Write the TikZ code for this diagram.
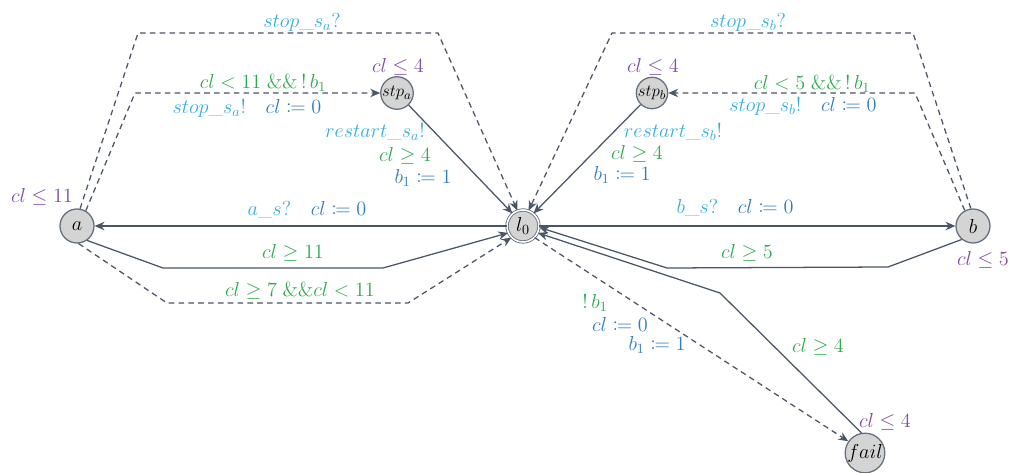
\documentclass[tikz,border=0pt]{standalone}
\usepackage{mathtools}
\usetikzlibrary{arrows.meta}
\definecolor{EdgeSlate}{HTML}{4A5567}
\definecolor{LocGray}{HTML}{D4D4D4}
\definecolor{SyncCyan}{HTML}{38ACE0}
\definecolor{UpdBlue}{HTML}{2E7DC0}
\definecolor{GuardGreen}{HTML}{2DAA4E}
\definecolor{InvPurple}{HTML}{7E4BA8}

\begin{document}
\begin{tikzpicture}[
      loc/.style={circle,draw=EdgeSlate!85,line width=0.9pt,fill=LocGray,
                  minimum size=0.85cm,inner sep=0pt,font=\fontsize{14}{16}\selectfont},
      sloc/.style={loc,minimum size=0.72cm,font=\fontsize{12.5}{13}\selectfont},
      initloc/.style={loc,line width=0.6pt,double=white,double distance=1.1pt,minimum size=0.8cm},
      tr/.style={draw=EdgeSlate,line width=0.9pt,-{Stealth[length=7pt,width=6pt]}},
      dtr/.style={tr,dash pattern=on 4pt off 3pt},
      lab/.style={font=\fontsize{14}{16}\selectfont,inner sep=0pt},
      inv/.style={lab,text=InvPurple},
      grd/.style={lab,text=GuardGreen},
      syn/.style={lab,text=SyncCyan},
      upd/.style={lab,text=UpdBlue},
    ]
    \useasboundingbox (0,0) rectangle (25.4,11.8);

    \node[loc]    (a)    at (1.925,6.15)   {$a$};
    \node[initloc](l0)   at (13.075,6.15)  {$l_0$};
    \node[loc]    (b)    at (24.325,6.15)  {$b$};
    \node[sloc]   (stpa) at (9.925,9.475)  {$stp_a$};
    \node[sloc]   (stpb) at (16.3,9.475)   {$stp_b$};
    \node[loc]    (fail) at (21.625,0.475) {$fail$};

    \node[inv] at (1.05,6.875)  {$cl \leq 11$};
    \node[inv] at (9.95,10.125) {$cl \leq 4$};
    \node[inv] at (16.325,10.125) {$cl \leq 4$};
    \node[inv] at (24.575,5.3)  {$cl \leq 5$};
    \node[inv] at (22.125,1.25) {$cl \leq 4$};

    \draw[dtr] (a.80) -- (3.45,10.975) -- (10.95,10.975) -- (l0.110);
    \draw[dtr] (a.60) -- (3.375,9.475) -- (stpa);
    \draw[tr]  (stpa) -- (l0.130);
    \draw[tr]  (l0) -- (a);
    \draw[tr]  (a.-55) -- (4.075,5.1) -- (9.575,5.1) -- (l0.205);
    \draw[dtr] (a.-85) -- (4.175,4.225) -- (10.2,4.225) -- (l0.225);

    \draw[dtr] (b.97) -- (22.825,10.975) -- (15.3,10.975) -- (l0.70);
    \draw[dtr] (b.118) -- (22.875,9.475) -- (stpb);
    \draw[tr]  (stpb) -- (l0.50);
    \draw[tr]  (l0) -- (b);
    \draw[tr]  (b.230) -- (22.2,5.125) -- (16.675,5.1) -- (l0.-5);
    \draw[tr]  (fail.100) -- (18.0,4.475) -- (l0.-25);
    \draw[dtr] (l0.-45) -- (fail.145);

    \node[syn] at (7.55,11.25) {$stop\_s_a?$};
    \node[grd] at (6.575,9.725) {$cl < 11\;\&\&\,!\,b_1$};
    \node[lab] at (6.175,9.1) {$\color{SyncCyan}stop\_s_a!\quad\color{UpdBlue}cl \coloneqq 0$};
    \node[syn] at (9.375,8.5) {$restart\_s_a!$};
    \node[grd] at (10.125,7.9) {$cl \geq 4$};
    \node[upd] at (10.575,7.35) {$b_1 \coloneqq 1$};
    \node[lab] at (7.675,6.55) {$\color{SyncCyan}a\_s?\quad\color{UpdBlue}cl \coloneqq 0$};
    \node[grd] at (7.325,5.475) {$cl \geq 11$};
    \node[grd] at (7.5,4.525) {$cl \geq 7\;\&\&cl < 11$};

    \node[syn] at (18.7,11.25) {$stop\_s_b?$};
    \node[grd] at (20.3,9.7) {$cl < 5\;\&\&\,!\,b_1$};
    \node[lab] at (20.075,9.15) {$\color{SyncCyan}stop\_s_b!\quad\color{UpdBlue}cl \coloneqq 0$};
    \node[syn] at (16.825,8.5) {$restart\_s_b!$};
    \node[grd] at (15.925,7.95) {$cl \geq 4$};
    \node[upd] at (15.55,7.425) {$b_1 \coloneqq 1$};
    \node[lab] at (18.375,6.6) {$\color{SyncCyan}b\_s?\quad\color{UpdBlue}cl \coloneqq 0$};
    \node[grd] at (18.675,5.475) {$cl \geq 5$};
    \node[grd] at (14.875,4.225) {$!\,b_1$};
    \node[upd] at (15.5,3.7) {$cl \coloneqq 0$};
    \node[upd] at (16.425,3.175) {$b_1 \coloneqq 1$};
    \node[grd] at (20.45,3.125) {$cl \geq 4$};
  \end{tikzpicture}
\end{document}
